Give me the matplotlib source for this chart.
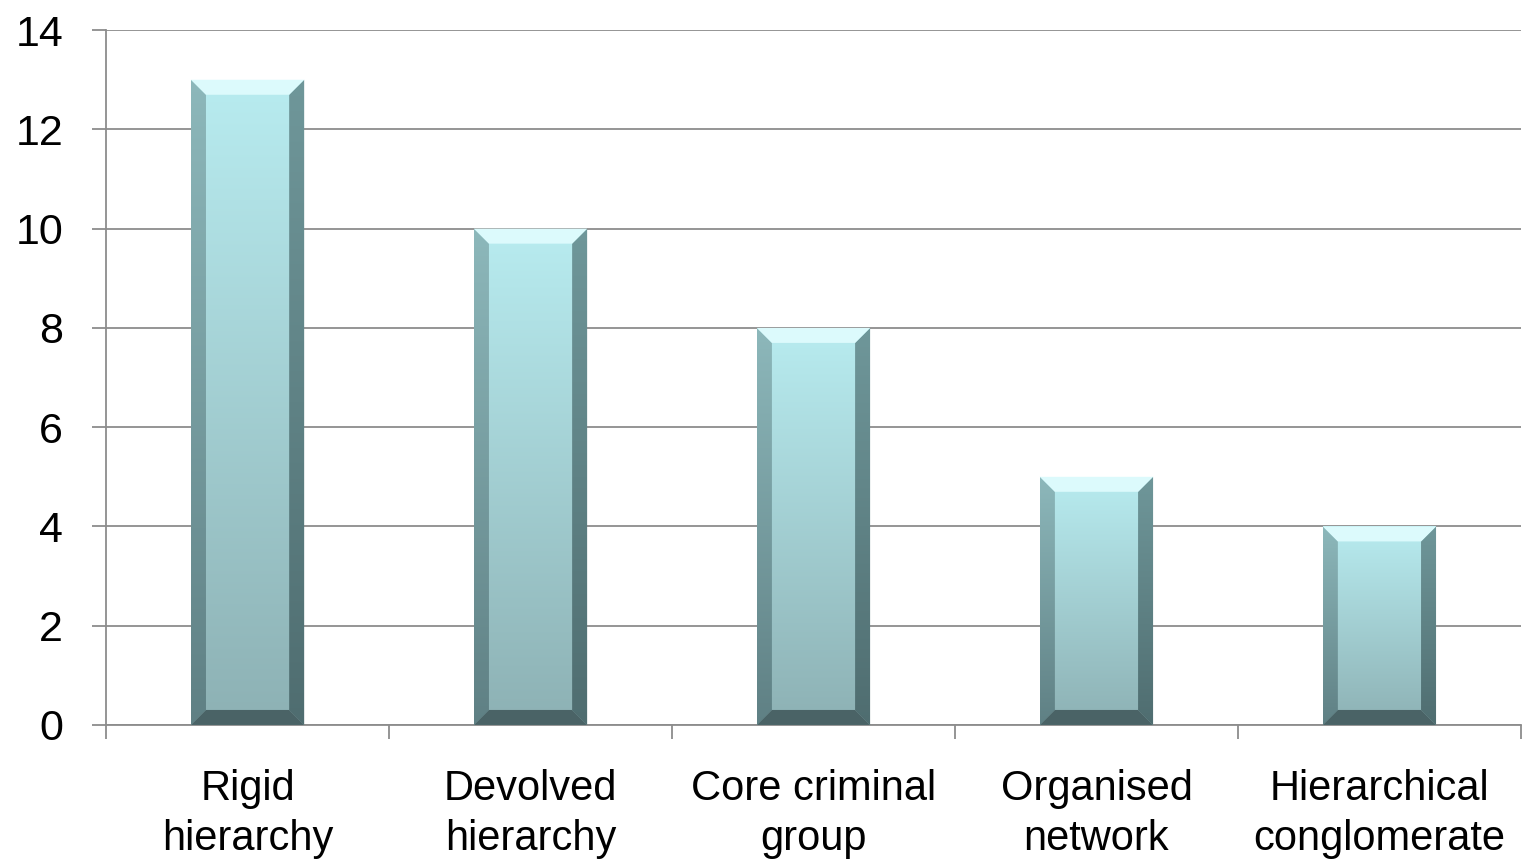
import numpy as np
import matplotlib
matplotlib.use("Agg")
import matplotlib.pyplot as plt
from matplotlib.patches import Polygon
from matplotlib.colors import LinearSegmentedColormap

categories = ["Rigid\nhierarchy", "Devolved\nhierarchy", "Core criminal\ngroup",
              "Organised\nnetwork", "Hierarchical\nconglomerate"]
values = [13, 10, 8, 5, 4]
y_ticks = [0, 2, 4, 6, 8, 10, 12, 14]

plt.rcParams['font.family'] = ['Liberation Sans', 'DejaVu Sans']

fig = plt.figure(figsize=(15.22, 8.61), dpi=100)
ax = fig.add_axes([0.0697, 0.158, 0.9296, 0.807])

x = np.arange(len(categories))
bars = ax.bar(x, values, width=0.4, color="none", edgecolor="none", zorder=3)

ax.set_xlim(-0.5, len(categories) - 0.5)
ax.set_ylim(0, 14)
ax.set_yticks(y_ticks)
ax.set_yticklabels([str(v) for v in y_ticks])
ax.set_xticks(x)
ax.set_xticklabels(categories, linespacing=1.3)
ax.set_xticks(np.arange(-0.5, len(categories)), minor=True)

ax.grid(axis="y", color="#8c8c8c", linewidth=1.3)
ax.set_axisbelow(True)
for s in ["top", "right"]:
    ax.spines[s].set_visible(False)
for s in ["left", "bottom"]:
    ax.spines[s].set_color("#8c8c8c")
    ax.spines[s].set_linewidth(1.3)

ax.tick_params(axis="y", length=10, width=1.3, color="#8c8c8c", labelsize=31, pad=21)
ax.tick_params(axis="x", which="major", length=0, labelsize=30, pad=32)
ax.tick_params(axis="x", which="minor", length=10, width=1.3, color="#8c8c8c")

# bevel size in data units (~15 px)
ax_w = fig.get_figwidth() * fig.dpi * 0.9296
ax_h = fig.get_figheight() * fig.dpi * 0.807
bx = 15 / (ax_w / (len(categories)))
by = 15 / (ax_h / 14)

face_cmap = LinearSegmentedColormap.from_list("face", ["#8db1b4", "#b8ecf0"])
left_cmap = LinearSegmentedColormap.from_list("left", ["#5f8084", "#8db8bb"])
right_cmap = LinearSegmentedColormap.from_list("right", ["#4f6d70", "#6f979a"])
grad = np.linspace(0, 1, 256).reshape(-1, 1)


def fill_gradient(poly, cmap, x0, x1, h):
    ax.add_patch(poly)
    im = ax.imshow(grad, cmap=cmap, origin="lower", aspect="auto",
                   extent=(x0, x1, 0, h), zorder=poly.get_zorder(),
                   interpolation="bilinear")
    im.set_clip_path(poly)


for rect in bars:
    x0 = rect.get_x()
    w = rect.get_width()
    h = rect.get_height()
    x1 = x0 + w
    face = Polygon([(x0, 0), (x1, 0), (x1, h), (x0, h)], closed=True,
                   facecolor="none", edgecolor="none", zorder=3)
    fill_gradient(face, face_cmap, x0, x1, h)
    left = Polygon([(x0, 0), (x0, h), (x0 + bx, h - by), (x0 + bx, by)],
                   closed=True, facecolor="none", edgecolor="none", zorder=4)
    fill_gradient(left, left_cmap, x0, x1, h)
    right = Polygon([(x1, 0), (x1, h), (x1 - bx, h - by), (x1 - bx, by)],
                    closed=True, facecolor="none", edgecolor="none", zorder=4)
    fill_gradient(right, right_cmap, x0, x1, h)
    top = Polygon([(x0, h), (x1, h), (x1 - bx, h - by), (x0 + bx, h - by)],
                  closed=True, facecolor="#dcfafc", edgecolor="none", zorder=5)
    bottom = Polygon([(x0, 0), (x1, 0), (x1 - bx, by), (x0 + bx, by)],
                     closed=True, facecolor="#4a6366", edgecolor="none", zorder=5)
    ax.add_patch(top)
    ax.add_patch(bottom)

fig.savefig("out.png", dpi=100)
